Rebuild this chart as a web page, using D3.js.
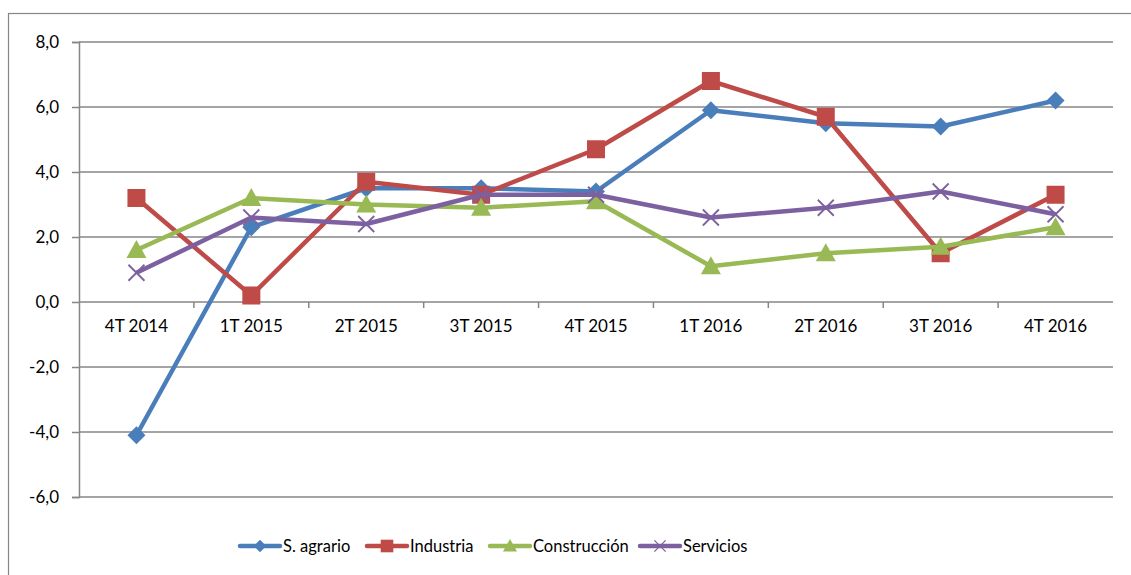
<!DOCTYPE html>
<html>
<head>
<meta charset="utf-8">
<script src="https://cdn.jsdelivr.net/npm/d3@7"></script>
<style>
  body { margin: 0; background: #fff; }
  svg text { font-family: Lato, "Open Sans", sans-serif; fill: #000; }
</style>
</head>
<body>
<svg id="chart" width="1131" height="575"></svg>
<script>
var categories = ['4T 2014', '1T 2015', '2T 2015', '3T 2015', '4T 2015', '1T 2016', '2T 2016', '3T 2016', '4T 2016']
  , agrario = [-4.1, 2.3, 3.5, 3.5, 3.4, 5.9, 5.5, 5.4, 6.2]
  , industria = [3.2, 0.2, 3.7, 3.3, 4.7, 6.8, 5.7, 1.5, 3.3]
  , construccion = [1.6, 3.2, 3.0, 2.9, 3.1, 1.1, 1.5, 1.7, 2.3]
  , servicios = [0.9, 2.6, 2.4, 3.3, 3.3, 2.6, 2.9, 3.4, 2.7]
  , yTicks = [-6, -4, -2, 0, 2, 4, 6, 8]
;

var series = [
  { name: 'S. agrario', values: agrario, color: '#4a7ebb', marker: 'diamond' },
  { name: 'Industria', values: industria, color: '#be4b48', marker: 'square' },
  { name: 'Construcción', values: construccion, color: '#98b954', marker: 'triangle' },
  { name: 'Servicios', values: servicios, color: '#7d60a0', marker: 'cross' }
];

var svg = d3.select('#chart')
  , plotL = 79, plotR = 1113, plotT = 42, plotB = 497
  , axisFont = '17px'
  // excel style: comma decimals, plain hyphen for minus
  , fmt = function (d) { return d.toFixed(1).replace('.', ','); }
;

// outer chart frame (only left/top visible in the original)
svg.append('rect')
  .attr('x', 8.5).attr('y', 13.5)
  .attr('width', 1140).attr('height', 600)
  .attr('fill', 'none').attr('stroke', '#868686').attr('stroke-width', 1.2);

var x = d3.scaleBand().domain(categories).range([plotL, plotR]);
var y = d3.scaleLinear().domain([-6, 8]).range([plotB, plotT]);

// gridlines
svg.append('g').selectAll('line')
  .data(yTicks)
  .enter().append('line')
    .attr('x1', plotL).attr('x2', plotR)
    .attr('y1', function (d) { return y(d); })
    .attr('y2', function (d) { return y(d); })
    .attr('stroke', '#868686').attr('stroke-width', 1.5);

// y axis
var yAxis = svg.append('g')
  .attr('transform', 'translate(' + plotL + ',0)')
  .call(d3.axisLeft(y).tickValues(yTicks).tickFormat(fmt).tickSize(7).tickPadding(13));
yAxis.select('.domain').attr('stroke', '#868686').attr('stroke-width', 1.5);
yAxis.selectAll('.tick line').attr('stroke', '#868686').attr('stroke-width', 1.5);
yAxis.selectAll('text').style('font-size', axisFont).style('font-family', 'Lato, "Open Sans", sans-serif');

// x axis on zero line
var xAxis = svg.append('g')
  .attr('transform', 'translate(0,' + y(0) + ')')
  .call(d3.axisBottom(x).tickSize(0).tickPadding(18));
xAxis.select('.domain').remove();
xAxis.selectAll('text').style('font-size', axisFont).style('font-family', 'Lato, "Open Sans", sans-serif');

// category separators below the zero line
svg.append('g').selectAll('line')
  .data(categories.slice(1))
  .enter().append('line')
    .attr('x1', function (d) { return x(d); })
    .attr('x2', function (d) { return x(d); })
    .attr('y1', y(0)).attr('y2', y(0) + 6)
    .attr('stroke', '#868686').attr('stroke-width', 1.5);

var cx = function (i) { return x(categories[i]) + x.bandwidth() / 2; };

function drawMarker(g, type, color) {
  if (type === 'diamond') {
    g.append('path').attr('d', 'M0,-9L9,0L0,9L-9,0Z').attr('fill', color);
  } else if (type === 'square') {
    g.append('rect').attr('x', -9).attr('y', -9).attr('width', 18).attr('height', 18).attr('fill', color);
  } else if (type === 'triangle') {
    g.append('path').attr('d', 'M0,-10L10,8L-10,8Z').attr('fill', color);
  } else {
    g.append('path').attr('d', 'M-8,-8L8,8M-8,8L8,-8').attr('stroke', color).attr('stroke-width', 1.8).attr('fill', 'none');
  }
}

var line = d3.line()
  .x(function (d, i) { return cx(i); })
  .y(function (d) { return y(d); });

series.forEach(function (s) {
  var g = svg.append('g');
  g.append('path')
    .attr('d', line(s.values))
    .attr('fill', 'none')
    .attr('stroke', s.color)
    .attr('stroke-width', 4.5)
    .attr('stroke-linejoin', 'round');
  g.selectAll('g.m')
    .data(s.values)
    .enter().append('g')
      .attr('class', 'm')
      .attr('transform', function (d, i) { return 'translate(' + cx(i) + ',' + y(d) + ')'; })
      .each(function () { drawMarker(d3.select(this), s.marker, s.color); });
});

// legend
var legendX = [240, 367, 490, 640];
series.forEach(function (s, i) {
  var g = svg.append('g').attr('transform', 'translate(' + legendX[i] + ',546)');
  g.append('line').attr('x1', 0).attr('x2', 40).attr('y1', 0).attr('y2', 0)
    .attr('stroke', s.color).attr('stroke-width', 4.5).attr('stroke-linecap', 'round');
  var m = g.append('g').attr('transform', 'translate(20,0) scale(0.7)');
  drawMarker(m, s.marker, s.color);
  g.append('text').attr('x', 43).attr('y', 6).style('font-size', '16.5px').text(s.name);
});
</script>
</body>
</html>
